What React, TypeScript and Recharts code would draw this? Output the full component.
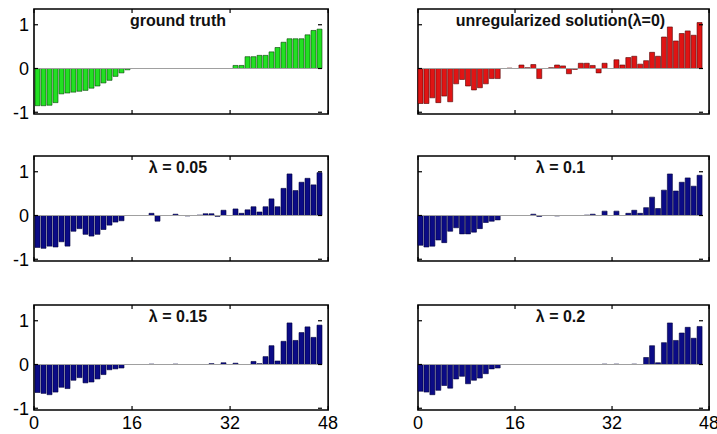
import React from "react";
import { BarChart, Bar, XAxis, YAxis, ReferenceLine, ReferenceArea } from "recharts";

// 48 coefficients per panel
const truth = [
  -0.85, -0.85, -0.84, -0.78, -0.58, -0.56, -0.54, -0.52, -0.5, -0.45, -0.4, -0.33, -0.27, -0.18, -0.1, -0.03,
  0, 0, 0, 0, 0, 0, 0, 0, 0, 0, 0, 0, 0, 0, 0, 0, 0,
  0.07, 0.07, 0.27, 0.27, 0.3, 0.3, 0.38, 0.48, 0.6, 0.68, 0.68, 0.68, 0.77, 0.87, 0.9,
];
const unregularized = [
  -0.8, -0.8, -0.67, -0.78, -0.63, -0.76, -0.35, -0.25, -0.4, -0.49, -0.44, -0.35, -0.23, -0.23,
  0, 0.01, 0, 0.08, 0.02, 0.09, -0.23, 0, 0.02, 0.08, 0.06, -0.12, -0.02, 0.12, 0.12, 0.07, -0.1, 0.12, 0,
  0.2, 0.08, 0.25, 0.28, 0.1, 0.18, 0.37, 0.28, 0.72, 0.95, 0.63, 0.8, 0.86, 0.76, 1.05,
];
const lambda005 = [
  -0.73, -0.75, -0.7, -0.72, -0.6, -0.7, -0.36, -0.3, -0.43, -0.47, -0.43, -0.32, -0.22, -0.15, -0.12,
  0, 0, 0, 0, 0.05, -0.13, 0, 0, 0.03, 0, -0.01, 0, 0.01, 0.04, 0.04, -0.02, 0.12, 0,
  0.15, 0.05, 0.13, 0.2, 0.08, 0.2, 0.38, 0.2, 0.62, 0.95, 0.57, 0.76, 0.85, 0.7, 0.98,
];
const lambda01 = [
  -0.68, -0.72, -0.7, -0.56, -0.62, -0.36, -0.28, -0.42, -0.42, -0.38, -0.3, -0.16, -0.13, -0.1,
  0, 0, 0, 0, 0, 0.03, -0.02, 0, 0, -0.01, 0, 0, 0, 0, 0.01, 0.03, 0, 0.1, 0,
  0.1, 0, 0.05, 0.12, 0.05, 0.18, 0.42, 0.16, 0.58, 0.95, 0.56, 0.76, 0.86, 0.67, 0.92,
];
const lambda015 = [
  -0.64, -0.66, -0.69, -0.63, -0.52, -0.55, -0.36, -0.3, -0.42, -0.4, -0.33, -0.23, -0.12, -0.1, -0.08,
  0, 0, 0, 0, 0.01, 0, 0, 0, 0.01, 0, 0, 0, 0, 0, 0.02, 0, 0.04, 0,
  0.03, 0, 0, 0.07, 0.02, 0.18, 0.43, 0.08, 0.53, 0.95, 0.55, 0.73, 0.86, 0.62, 0.9,
];
const lambda02 = [
  -0.61, -0.63, -0.69, -0.59, -0.48, -0.54, -0.33, -0.27, -0.44, -0.36, -0.31, -0.21, -0.1, -0.08,
  0, 0, 0, 0, 0, 0, 0, 0, 0, 0, 0, 0, 0, 0, 0, 0, 0,
  0.01, 0, 0.01, 0, 0, 0.01, 0, 0.16, 0.43, 0.04, 0.5, 0.95, 0.55, 0.72, 0.85, 0.6, 0.87,
];

const xTicks = [0, 16, 32, 48];
const yTicks = [-1, 0, 1];
const yDomain: [number, number] = [-1.04, 1.36];

const FONT = '"Liberation Sans", Arial, Helvetica, sans-serif';
const PLOT_H = 105;
const TICK_LEN = 4;
const X_MARGIN = 6;
const Y_MARGIN = 5;

// bottom axis tick: label (optional) plus inward marks at bottom and top of the box
function makeXTick(show: boolean) {
  return (props: any) => {
    const { x, y, payload } = props;
    const bottom = y - X_MARGIN;
    const top = bottom - PLOT_H;
    return (
      <g>
        <line x1={x} x2={x} y1={bottom} y2={bottom - TICK_LEN} stroke="#000" strokeWidth={1.2} />
        <line x1={x} x2={x} y1={top} y2={top + TICK_LEN} stroke="#000" strokeWidth={1.2} />
        {show && (
          <text x={x} y={y} dy="0.71em" textAnchor="middle" fill="#000" fontSize={18} fontFamily={FONT}>
            {payload.value}
          </text>
        )}
      </g>
    );
  };
}

// left axis tick: label (optional) plus inward marks at left and right of the box
function makeYTick(show: boolean, plotW: number) {
  return (props: any) => {
    const { x, y, payload } = props;
    const left = x + Y_MARGIN;
    const right = left + plotW;
    return (
      <g>
        <line x1={left} x2={left + TICK_LEN} y1={y} y2={y} stroke="#000" strokeWidth={1.2} />
        <line x1={right} x2={right - TICK_LEN} y1={y} y2={y} stroke="#000" strokeWidth={1.2} />
        {show && (
          <text x={x} y={y} dy="0.355em" textAnchor="end" fill="#000" fontSize={18} fontFamily={FONT}>
            {payload.value}
          </text>
        )}
      </g>
    );
  };
}

type PanelProps = {
  title: string;
  values: number[];
  fill: string;
  edge: string;
  left: number;
  top: number;
  showY: boolean;
  showX: boolean;
};

function Panel({ title, values, fill, edge, left, top, showY, showX }: PanelProps) {
  const data = values.map((v, i) => ({ bin: i + 1, v }));
  const chartW = 345;
  const plotW = showY ? 288 : 285;
  return (
    <div style={{ position: "absolute", left, top, width: chartW, height: 144 }}>
      <BarChart
        width={chartW}
        height={144}
        data={data}
        margin={{ top: 9, right: chartW - 34 - plotW, bottom: 0, left: 0 }}
        barCategoryGap={0}
      >
        <XAxis xAxisId="cat" dataKey="bin" type="category" orientation="top" hide />
        <XAxis
          xAxisId="n"
          type="number"
          domain={[0, 48]}
          ticks={xTicks}
          interval={0}
          allowDataOverflow
          height={30}
          tickLine={false}
          tickSize={0}
          tickMargin={X_MARGIN}
          tick={makeXTick(showX)}
          axisLine={false}
        />
        <YAxis
          yAxisId="y"
          type="number"
          domain={yDomain}
          ticks={yTicks}
          interval={0}
          allowDataOverflow
          width={34}
          tickLine={false}
          tickSize={0}
          tickMargin={Y_MARGIN}
          tick={makeYTick(showY, plotW)}
          axisLine={false}
        />
        <ReferenceLine xAxisId="cat" yAxisId="y" y={0} stroke="#a0a0a0" strokeWidth={1.2} />
        <Bar
          xAxisId="cat"
          yAxisId="y"
          dataKey="v"
          fill={fill}
          stroke={edge}
          strokeWidth={0.6}
          barSize={5}
          isAnimationActive={false}
        />
        <ReferenceArea
          xAxisId="n"
          yAxisId="y"
          x1={0}
          x2={48}
          y1={yDomain[0]}
          y2={yDomain[1]}
          fill="none"
          fillOpacity={0}
          stroke="#000"
          strokeWidth={1.6}
          strokeOpacity={1}
          ifOverflow="visible"
        />
      </BarChart>
      <div
        style={{
          position: "absolute",
          left: 34,
          width: plotW,
          top: 13,
          textAlign: "center",
          fontFamily: FONT,
          fontWeight: "bold",
          fontSize: 16,
          lineHeight: "16px",
          color: "#111",
          whiteSpace: "nowrap",
        }}
      >
        {title}
      </div>
    </div>
  );
}

export default function App() {
  const blue = "#0b0b86";
  const blueEdge = "#00003a";
  return (
    <div
      style={{
        position: "absolute",
        left: 0,
        top: 0,
        width: 717,
        height: 434,
        overflow: "hidden",
        background: "#fff",
      }}
    >
      <Panel title="ground truth" values={truth} fill="#22e022" edge="#0a400a" left={0} top={0} showY showX={false} />
      <Panel title="unregularized solution(λ=0)" values={unregularized} fill="#e01414" edge="#500000" left={384} top={0} showY={false} showX={false} />
      <Panel title="λ = 0.05" values={lambda005} fill={blue} edge={blueEdge} left={0} top={147} showY showX={false} />
      <Panel title="λ = 0.1" values={lambda01} fill={blue} edge={blueEdge} left={384} top={147} showY={false} showX={false} />
      <Panel title="λ = 0.15" values={lambda015} fill={blue} edge={blueEdge} left={0} top={296} showY showX />
      <Panel title="λ = 0.2" values={lambda02} fill={blue} edge={blueEdge} left={384} top={296} showY={false} showX />
    </div>
  );
}
